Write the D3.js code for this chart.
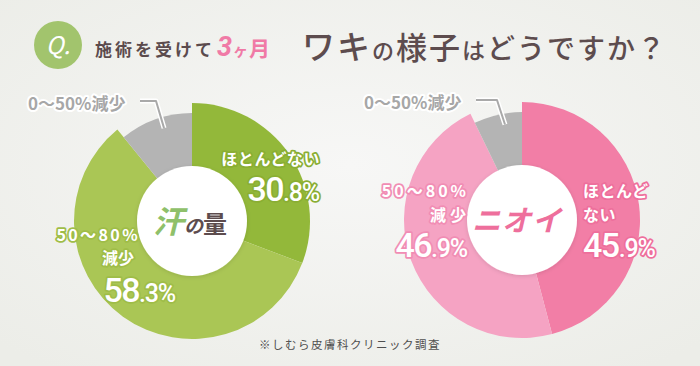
<!DOCTYPE html>
<html>
<head>
<meta charset="utf-8">
<script src="https://cdn.jsdelivr.net/npm/d3@7"></script>
<style>
  html, body { margin: 0; padding: 0; background: #f3f3f1; }
  svg { display: block; }
  text { font-family: "Noto Sans CJK JP", "Noto Sans", sans-serif; }
</style>
</head>
<body>
<script>
// data
var categories = ["ほとんどない", "50～80%減少", "0～50%減少"];
var sweatValues = [30.8, 58.3, 10.9];
var odorValues = [45.9, 46.9, 7.2];
var chartTitles = ["汗の量", "ニオイ"];

var width = 700,
    height = 366;

var svg = d3.select("body").append("svg")
    .attr("xmlns", d3.namespaces.svg)
    .attr("width", width)
    .attr("height", height)
    .attr("viewBox", "0 0 " + width + " " + height);

var defs = svg.append("defs");
var bg = defs.append("radialGradient").attr("id", "bg").attr("cx", "50%").attr("cy", "45%").attr("r", "70%");
bg.append("stop").attr("offset", "0%").attr("stop-color", "#f7f7f6");
bg.append("stop").attr("offset", "100%").attr("stop-color", "#ecede8");
var sh = defs.append("filter").attr("id", "shadow").attr("x", "-20%").attr("y", "-20%").attr("width", "140%").attr("height", "140%");
sh.append("feDropShadow").attr("dx", 0).attr("dy", 1).attr("stdDeviation", 2).attr("flood-color", "#000").attr("flood-opacity", 0.12);

svg.append("rect").attr("width", width).attr("height", height).attr("fill", "url(#bg)");

// title
var title = svg.append("g");
title.append("circle").attr("cx", 58).attr("cy", 45).attr("r", 24).attr("fill", "#a2c46d");
title.append("text").attr("x", 58).attr("y", 54).attr("text-anchor", "middle")
    .attr("fill", "#fff").attr("font-size", 24).attr("font-style", "italic")
    .attr("font-family", "Roboto").text("Q.");

var sub = title.append("text").attr("x", 95).attr("y", 56)
    .attr("font-weight", 700).attr("fill", "#5b4b4d").attr("font-size", 17);
sub.append("tspan").attr("letter-spacing", 3).text("施術を受けて");
sub.append("tspan").attr("dx", 2).attr("fill", "#f07aa6").attr("font-size", 27)
    .attr("font-weight", 700).attr("font-style", "italic").attr("font-family", "Roboto").text("3");
sub.append("tspan").attr("dx", 1).attr("fill", "#f07aa6").attr("font-size", 15).text("ヶ");
sub.append("tspan").attr("dx", 1).attr("fill", "#f07aa6").attr("font-size", 21).text("月");

var q = title.append("text").attr("x", 302).attr("y", 59)
    .attr("fill", "#5d4c4e").attr("font-weight", 500).attr("letter-spacing", 2);
[["ワキ", 33], ["の", 22], ["様子", 31], ["は", 23], ["どうですか", 28], ["？", 28]].forEach(function(p){
    q.append("tspan").attr("font-size", p[1]).text(p[0]);
});

function drawDonut(cx, cy, values, colors, center, labels) {
    var g = svg.append("g").attr("transform", "translate(" + cx + "," + cy + ")");
    var rOuter = 118, rSmall = 108, rInner = 55;

    var pie = d3.pie().sort(null).value(function(d){ return d; });
    var arcs = pie(values);
    var arc = d3.arc().innerRadius(0)
        .outerRadius(function(d){ return d.index === 2 ? rSmall : rOuter; });

    g.selectAll("path.slice").data(arcs).enter().append("path")
        .attr("class", "slice")
        .attr("d", arc)
        .attr("fill", function(d, i){ return colors[i]; });

    g.append("circle").attr("r", rInner).attr("fill", "#fff").attr("filter", "url(#shadow)");

    // leader line for small slice
    var s = arcs[2];
    var mid = (s.startAngle + s.endAngle) / 2 + 0.05;
    var ex = Math.sin(mid) * 97, ey = -Math.cos(mid) * 97;
    var lx = labels.small[0] - cx, ly = labels.small[1] - cy;
    var leader = "M" + (lx + 112) + "," + (ly - 9) + "H" + (ex - 8) + "L" + ex + "," + ey;
    g.append("path").attr("d", leader).attr("fill", "none").attr("stroke", "#fff").attr("stroke-width", 5).attr("stroke-linejoin", "round");
    g.append("path").attr("d", leader).attr("fill", "none").attr("stroke", "#a9a9a9").attr("stroke-width", 2).attr("stroke-linejoin", "round");

    svg.append("text").attr("x", labels.small[0]).attr("y", labels.small[1])
        .attr("font-size", 17).attr("font-weight", 700).attr("fill", "#a7a7a7")
        .attr("stroke", "#fff").attr("stroke-width", 4).attr("paint-order", "stroke")
        .attr("stroke-linejoin", "round")
        .text(categories[2]);

    center(g);

    // one text block per slice label: category lines + value
    labels.blocks.forEach(function(b){
        var t = svg.append("text")
            .attr("text-anchor", b.anchor)
            .attr("fill", "#fff").attr("stroke", b.stroke).attr("stroke-width", 3.5)
            .attr("paint-order", "stroke").attr("stroke-linejoin", "round");
        b.lines.forEach(function(l){
            t.append("tspan").attr("x", l[0]).attr("y", l[1])
                .attr("font-size", 16).attr("font-weight", 700)
                .attr("letter-spacing", l[3] || 0).text(l[2]);
        });
        var v = b.value.toFixed(1).split(".");
        t.append("tspan").attr("x", b.num[0]).attr("y", b.num[1])
            .attr("font-family", "Roboto").attr("font-weight", 500)
            .attr("font-size", 34).attr("letter-spacing", -1.5).text(v[0]);
        t.append("tspan").attr("font-family", "Roboto").attr("font-weight", 500)
            .attr("font-size", 25).attr("letter-spacing", -1.2).text("." + v[1] + "%");
    });
}

var greens = ["#93b83a", "#aac655", "#b4b4b4"];
var pinks = ["#f27ea6", "#f5a3c3", "#b4b4b4"];

drawDonut(192, 221, sweatValues, greens, function(g){
    var t = g.append("text").attr("x", -2).attr("y", 12).attr("text-anchor", "middle")
        .attr("font-weight", 700);
    t.append("tspan").attr("font-size", 31).attr("fill", "#8fc06a").attr("font-style", "italic").text(chartTitles[0].charAt(0));
    t.append("tspan").attr("font-size", 19).attr("fill", "#5d4c4e").attr("font-style", "italic").text(chartTitles[0].charAt(1));
    t.append("tspan").attr("font-size", 24).attr("fill", "#5d4c4e").text(chartTitles[0].charAt(2));
}, {
    small: [28, 110],
    blocks: [
        {anchor: "end", stroke: "#8aae33", value: sweatValues[0],
         lines: [[320, 165, "ほとんどない", 0.6]], num: [319, 201]},
        {anchor: "end", stroke: "#9fbd48", value: sweatValues[1],
         lines: [[140, 240.5, "50～80%", 2.4], [134, 264, "減少"]], num: [175, 302]}
    ]
});

drawDonut(522, 220, odorValues, pinks, function(g){
    g.append("text").attr("x", -5).attr("y", 11).attr("text-anchor", "middle")
        .attr("font-size", 29).attr("font-weight", 700).attr("font-style", "italic")
        .attr("fill", "#ee6f9c").attr("letter-spacing", 1)
        .text(chartTitles[1]);
}, {
    small: [364, 109],
    blocks: [
        {anchor: "start", stroke: "#ee6f9c", value: odorValues[0],
         lines: [[583, 197, "ほとんど", 0.5], [583, 220.5, "ない", 0.5]], num: [583, 257]},
        {anchor: "end", stroke: "#f18db4", value: odorValues[1],
         lines: [[469, 197, "50～80%", 3], [470, 220.5, "減少", 4]], num: [467, 257]}
    ]
});

svg.append("text").attr("x", 350).attr("y", 349).attr("text-anchor", "middle")
    .attr("font-size", 11.5).attr("fill", "#4f4f4f").attr("letter-spacing", 1.5)
    .text("※しむら皮膚科クリニック調査");
</script>
</body>
</html>
